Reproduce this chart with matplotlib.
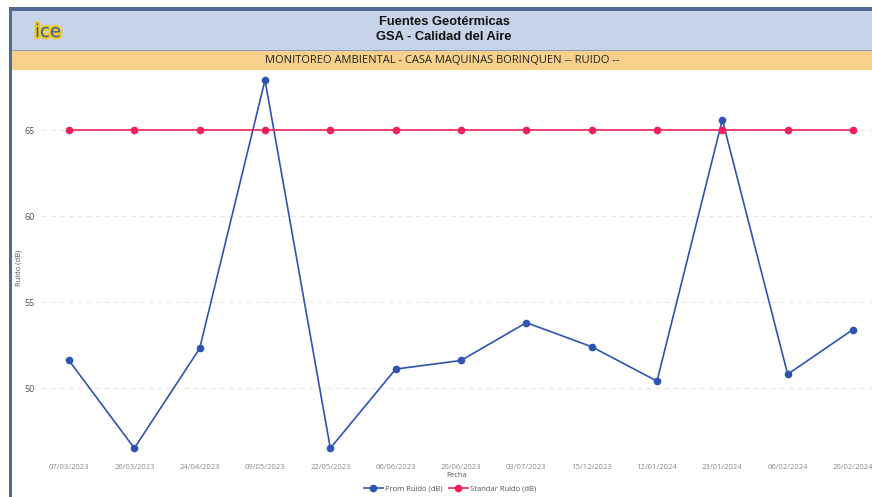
import matplotlib
matplotlib.use("Agg")
import matplotlib.pyplot as plt
import matplotlib.patches as mpatches
import matplotlib.patheffects as pe

fechas = ["07/03/2023", "26/03/2023", "24/04/2023", "09/05/2023", "22/05/2023",
          "06/06/2023", "20/06/2023", "03/07/2023", "15/12/2023", "12/01/2024",
          "23/01/2024", "06/02/2024", "20/02/2024"]
prom_ruido = [51.6, 46.5, 52.3, 67.9, 46.5, 51.1, 51.6, 53.8, 52.4, 50.4, 65.6, 50.8, 53.4]
standar_ruido = [65] * 13
y_ticks = [50, 55, 60, 65]

W, H = 872, 497
fig = plt.figure(figsize=(W / 100, H / 100), dpi=100)
fig.patch.set_facecolor("white")

def fx(px):
    return px / W

def fy(py):
    return 1 - py / H

# header bands
fig.add_artist(mpatches.Rectangle((fx(9), fy(11)), fx(W - 9), fy(7) - fy(11),
                                  transform=fig.transFigure, color="#4f6a92", lw=0))
fig.add_artist(mpatches.Rectangle((fx(12), fy(50)), fx(W - 12), fy(11) - fy(50),
                                  transform=fig.transFigure, color="#c6d3e8", lw=0))
fig.add_artist(mpatches.Rectangle((fx(12), fy(51)), fx(W - 12), fy(50) - fy(51),
                                  transform=fig.transFigure, color="#8a9ab8", lw=0))
fig.add_artist(mpatches.Rectangle((fx(12), fy(70)), fx(W - 12), fy(51) - fy(70),
                                  transform=fig.transFigure, color="#f7d18b", lw=0))
fig.add_artist(mpatches.Rectangle((fx(9), 0), fx(3), fy(7),
                                  transform=fig.transFigure, color="#4f6a92", lw=0))

fig.text(fx(444), fy(22), "Fuentes Geotérmicas", ha="center", va="center",
         fontsize=9.3, fontweight="bold", family="Liberation Sans", color="#111111")
fig.text(fx(444), fy(37), "GSA - Calidad del Aire", ha="center", va="center",
         fontsize=9.3, fontweight="bold", family="Liberation Sans", color="#111111")
fig.text(fx(442), fy(60.5), "MONITOREO AMBIENTAL - CASA MAQUINAS BORINQUEN -- RUIDO --",
         ha="center", va="center", fontsize=8, family="Open Sans", color="#222222")
logo = fig.text(fx(48), fy(32), "ice", ha="center", va="center", fontsize=13,
                family="DejaVu Sans", color="#2b5cb8")
logo.set_path_effects([pe.withStroke(linewidth=3, foreground="#f2c81a")])

# axes
left_px, right_px, top_px, bot_px = 42, 872, 70, 458
ax = fig.add_axes([fx(left_px), fy(bot_px), fx(right_px - left_px), fy(top_px) - fy(bot_px)])
x = list(range(len(fechas)))
ax.plot(x, prom_ruido, color="#2f54b0", lw=1.2, marker="o", ms=4.5, label="Prom Ruido (dB)")
ax.plot(x, standar_ruido, color="#f0205a", lw=1.2, marker="o", ms=4.5, label="Standar Ruido (dB)")

ppx = (853 - 69) / 12
ax.set_xlim(-(69 - left_px) / ppx, 12 + (right_px - 853) / ppx)
ppy = 17.2
ax.set_ylim(65 - (bot_px - 130) / ppy, 65 + (130 - top_px) / ppy)
ax.set_yticks(y_ticks)
ax.set_yticklabels([str(v) for v in y_ticks], fontsize=6.5, color="#555555", family="Open Sans")
ax.set_xticks(x)
ax.set_xticklabels(fechas, fontsize=5.5, color="#888888", family="Open Sans")
ax.tick_params(length=0, pad=4)
ax.tick_params(axis="y", pad=5)
ax.grid(axis="y", color="#e6e6e6", lw=0.8, ls=(0, (4, 4)))
for s in ax.spines.values():
    s.set_visible(False)
ax.set_facecolor("none")
ax.set_xlabel("Fecha", fontsize=5.5, color="#555555", family="Open Sans", labelpad=1)
ax.set_ylabel("Ruido (dB)", fontsize=5.5, color="#555555", family="Open Sans")
ax.yaxis.set_label_coords((22 - left_px) / (right_px - left_px), (bot_px - 268) / (bot_px - top_px))
fig.legend(loc="center", bbox_to_anchor=(fx(450), fy(489)), ncol=2, frameon=False,
           prop={"family": "Open Sans", "size": 5.5}, handlelength=2.5,
           columnspacing=0.8, handletextpad=0.3, labelcolor="#555555")

fig.savefig("out.png", dpi=100)
